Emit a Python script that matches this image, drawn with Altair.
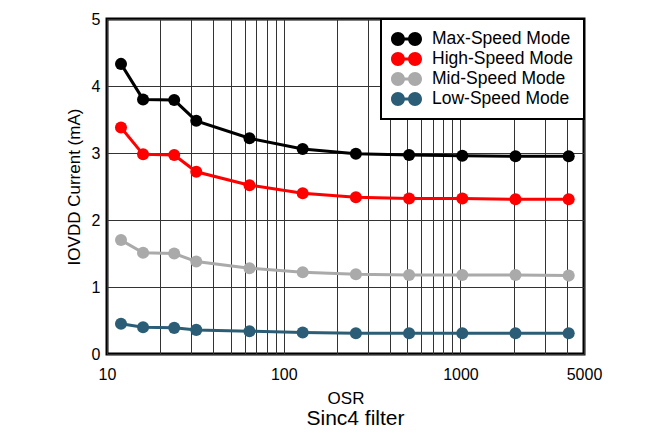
import altair as alt
import pandas as pd

osr = [12, 16, 24, 32, 64, 128, 256, 512, 1024, 2048, 4096]
max_speed = [4.33, 3.80, 3.79, 3.48, 3.22, 3.06, 2.99, 2.97, 2.96, 2.95, 2.95]
high_speed = [3.38, 2.98, 2.97, 2.72, 2.52, 2.40, 2.34, 2.32, 2.32, 2.31, 2.31]
mid_speed = [1.70, 1.51, 1.50, 1.38, 1.28, 1.22, 1.19, 1.18, 1.18, 1.18, 1.17]
low_speed = [0.45, 0.40, 0.39, 0.36, 0.34, 0.32, 0.31, 0.31, 0.31, 0.31, 0.31]

series_names = ["Max-Speed Mode", "High-Speed Mode", "Mid-Speed Mode", "Low-Speed Mode"]
series_colors = ["#000000", "#FF0000", "#AAAAAA", "#2B5E76"]
x_grid_values = [10, 20, 30, 40, 50, 60, 70, 80, 90, 100, 200, 300, 400, 500, 600, 700, 800, 900,
                 1000, 2000, 3000, 4000, 5000]
x_label_values = [10, 100, 1000, 5000]
y_values = [0, 1, 2, 3, 4, 5]

rows = []
for name, vals in zip(series_names, [max_speed, high_speed, mid_speed, low_speed]):
    for o, v in zip(osr, vals):
        rows.append({"OSR": o, "Current": v, "Mode": name})
df = pd.DataFrame(rows)

legend_path = ("M-1,0 A0.45,0.45 0 1,1 -0.1,0 A0.45,0.45 0 1,1 -1,0 Z "
               "M0.1,0 A0.45,0.45 0 1,1 1,0 A0.45,0.45 0 1,1 0.1,0 Z "
               "M-0.15,-0.1 L0.15,-0.1 L0.15,0.1 L-0.15,0.1 Z")

label_list = "[" + ",".join(str(v) for v in x_label_values) + "]"

x_enc = alt.X(
    "OSR:Q",
    scale=alt.Scale(type="log", domain=[10, 5000], nice=False),
    axis=alt.Axis(
        title="OSR",
        values=x_grid_values,
        format="d",
        labelExpr=f"indexof({label_list}, datum.value) >= 0 ? datum.label : ''",
        labelOverlap=False,
        labelFlush=False,
        ticks=False,
        domain=False,
        labelPadding=12,
        titlePadding=8,
    ),
)
y_enc = alt.Y(
    "Current:Q",
    scale=alt.Scale(domain=[0, 5], nice=False),
    axis=alt.Axis(
        title="IOVDD Current (mA)",
        values=y_values,
        format="d",
        ticks=False,
        domain=False,
        labelPadding=7,
        titlePadding=8,
    ),
)
color_enc = alt.Color(
    "Mode:N",
    scale=alt.Scale(domain=series_names, range=series_colors),
    legend=alt.Legend(
        title=None,
        orient="top-right",
        offset=0,
        symbolType=legend_path,
        symbolSize=961,
        symbolStrokeWidth=0,
        symbolOpacity=1,
        clipHeight=20,
        labelFontSize=17.5,
        labelOffset=10,
        labelColor="#000000",
        strokeColor="#000000",
        fillColor="#FFFFFF",
        padding=10,
        rowPadding=0,
    ),
)

base = alt.Chart(df)
lines = base.mark_line(strokeWidth=3).encode(x=x_enc, y=y_enc, color=color_enc)
points = base.mark_circle(size=145, opacity=1).encode(
    x="OSR:Q", y="Current:Q", color=alt.Color("Mode:N", legend=None)
)

chart = (
    alt.layer(lines, points)
    .properties(
        width=477,
        height=335,
        autosize=alt.AutoSizeParams(type="none"),
        padding={"left": 99, "top": 11, "right": 71, "bottom": 75},
        title=alt.TitleParams("Sinc4 filter", orient="bottom", fontSize=21, fontWeight="normal",
                              font="Liberation Sans", color="#000000", offset=2, dx=10),
    )
    .configure(font="Liberation Sans")
    .configure_view(stroke="#000000", strokeWidth=3)
    .configure_axis(
        grid=True,
        gridColor="#333333",
        gridOpacity=1,
        gridWidth=1,
        labelFontSize=16,
        labelColor="#000000",
        titleFontSize=17,
        titleFontWeight="normal",
        titleColor="#000000",
        labelFont="Liberation Sans",
        titleFont="Liberation Sans",
    )
    .configure_legend(strokeWidth=2)
)

chart.save("out.html", embed_options={"renderer": "svg", "actions": False})
